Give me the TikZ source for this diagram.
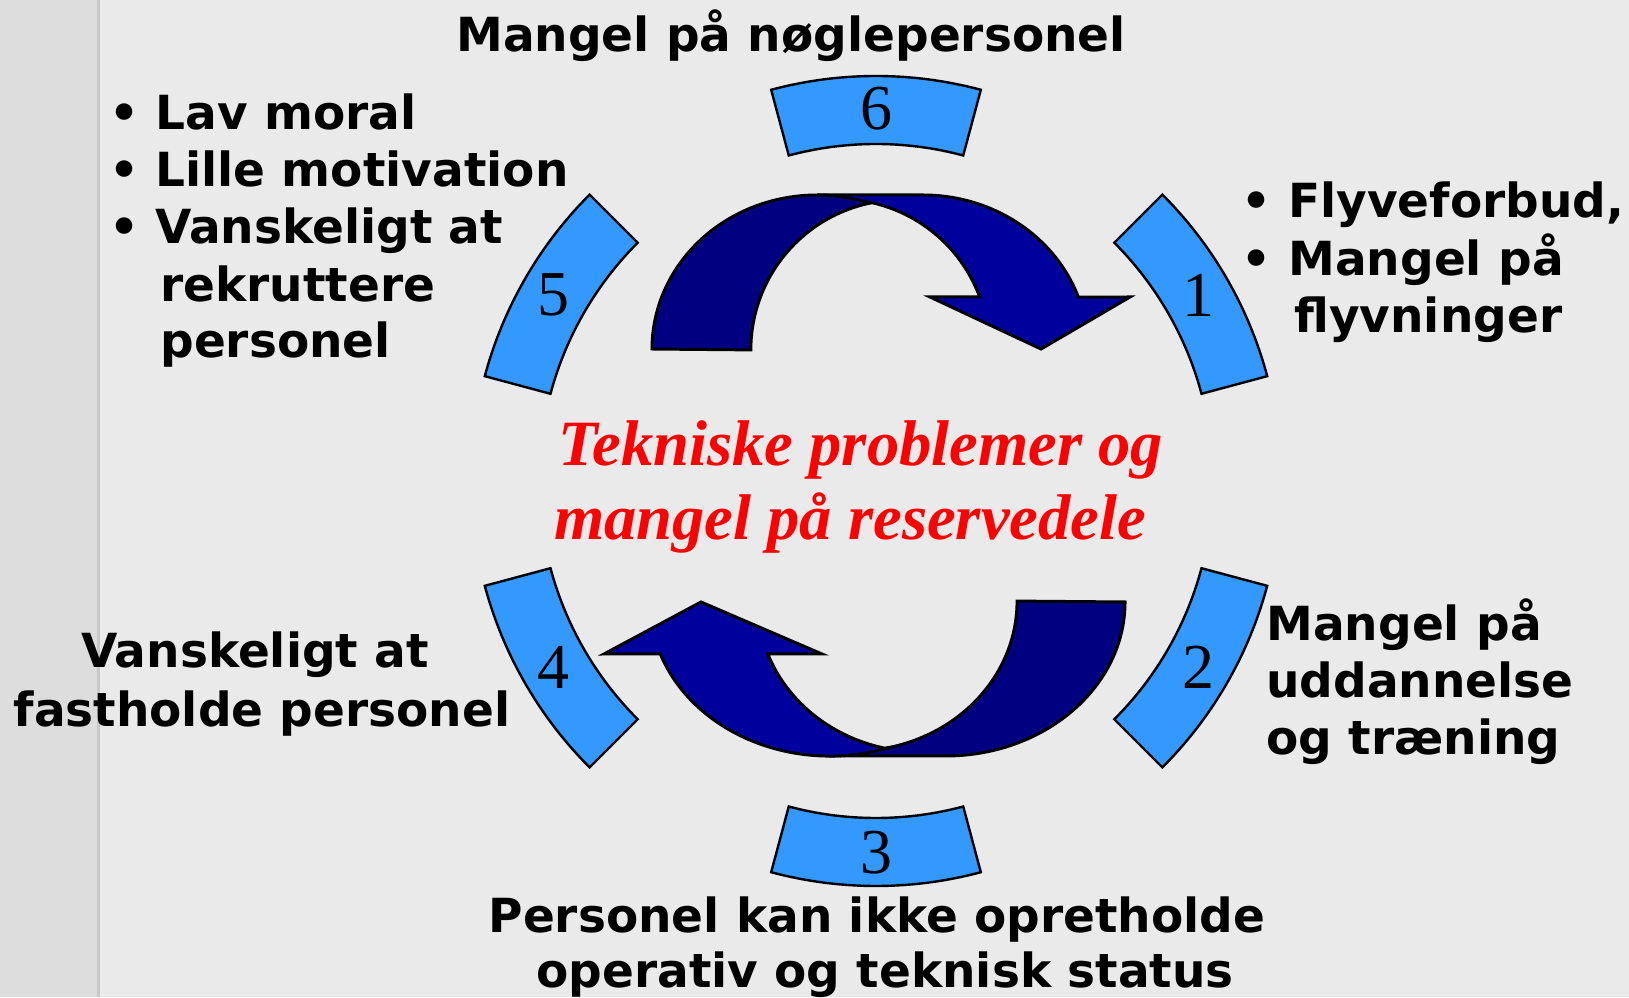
\documentclass[tikz,border=0pt]{standalone}
\usepackage{fontspec}
\setmainfont{DejaVu Sans}
\newfontfamily\timesfont{Liberation Serif}
\usepackage{tikz}
\usetikzlibrary{positioning}
\definecolor{slide_bg}{HTML}{EAEAEA}
\definecolor{slide_strip}{HTML}{DDDDDD}
\definecolor{slide_rule}{HTML}{C8C8C8}
\definecolor{ring_blue}{HTML}{3399FF}
\definecolor{band_dark}{HTML}{000080}
\definecolor{band_light}{HTML}{00009C}
\tikzstyle{segment} = [draw=black, fill=ring_blue, line width=1.2pt]
\tikzstyle{band_back} = [draw=black, fill=band_dark, line width=1.5pt]
\tikzstyle{band_front} = [draw=black, fill=band_light, line width=1.5pt]
\tikzstyle{segnum} = [inner sep=0pt, font=\timesfont\fontsize{32}{32}\selectfont]
\tikzstyle{txt} = [inner sep=0pt, anchor=base, font=\fontsize{23.5}{28}\selectfont\bfseries]
\tikzstyle{txt_left} = [txt, anchor=base west]
\tikzstyle{txt_red} = [inner sep=0pt, anchor=base, text=red, font=\timesfont\fontsize{32.3}{37}\selectfont\bfseries\itshape]

\begin{document}
\begin{tikzpicture}[x=0.5pt, y=0.5pt]
        \useasboundingbox (0,0) rectangle (1629,997);
        \fill[slide_bg] (0,0) rectangle (1629,997);
        \fill[slide_strip] (0,0) rectangle (97,997);
        \draw[slide_rule, line width=1.5pt] (98.5,0) -- (98.5,997);

        % ring of six segments
        \coordinate (ring) at (876,516);
        \foreach \ang/\num in {90/6, 30/1, -30/2, -90/3, -150/4, 150/5}{
            \draw[segment] ([shift={(ring)}]\ang-15:337) -- ([shift={(ring)}]\ang-15:405)
                arc[start angle=\ang-15, end angle=\ang+15, radius=405]
                -- ([shift={(ring)}]\ang+15:337)
                arc[start angle=\ang+15, end angle=\ang-15, radius=337] -- cycle;
            \node[segnum] (seg\num) at ([shift={(ring)}]\ang:372) {\num};
        }

        % upper curved arrow
        \draw[band_front] (817,802) -- (923,802) arc[start angle=90, end angle=19.7, x radius=165, y radius=154]
            -- (1130,700) -- (1041,648) -- (930,700) -- (979.7,700)
            arc[start angle=20.3, end angle=90, radius=150] -- cycle;
        \draw[band_back] (652,648) arc[start angle=180, end angle=71.3, x radius=165, y radius=154]
            arc[start angle=101.9, end angle=180, radius=150] -- cycle;

        % lower curved arrow
        \begin{scope}[shift={(887.4,1043)}, xscale=-1.09, yscale=-1, shift={(-870,0)}]
            \draw[band_back] (652,648) arc[start angle=180, end angle=90, x radius=165, y radius=154]
                -- (923,802) arc[start angle=90, end angle=108.7, x radius=165, y radius=154]
                arc[start angle=101.9, end angle=180, radius=150] -- cycle;
            \draw[band_front] (870.1,793.9) arc[start angle=108.7, end angle=19.7, x radius=165, y radius=154]
                -- (1130,700) -- (1041,648) -- (930,700) -- (979.7,700)
                arc[start angle=20.3, end angle=78.1, radius=150] -- cycle;
        \end{scope}

        % centre
        \node[txt_red] (centre_a) at (861,531) {Tekniske problemer og};
        \node[txt_red] (centre_b) at (850,457) {mangel på reservedele};

        % labels
        \node[txt] (lab6) at (791,945) {Mangel på nøglepersonel};

        \node[txt] (bul5a) at (125,867) {•};
        \node[txt] (bul5b) at (125,810) {•};
        \node[txt] (bul5c) at (125,753) {•};
        \node[txt_left] (lab5a) at (155,867) {Lav moral};
        \node[txt_left] (lab5b) at (155,810) {Lille motivation};
        \node[txt_left] (lab5c) at (155,753) {Vanskeligt at};
        \node[txt_left] (lab5d) at (160,695) {rekruttere};
        \node[txt_left] (lab5e) at (160,639) {personel};

        \node[txt] (bul1a) at (1257,779) {•};
        \node[txt] (bul1b) at (1257,721) {•};
        \node[txt_left] (lab1a) at (1288,779) {Flyveforbud,};
        \node[txt_left] (lab1b) at (1288,721) {Mangel på};
        \node[txt_left] (lab1c) at (1294,664) {flyvninger};

        \node[txt_left] (lab2a) at (1266,356) {Mangel på};
        \node[txt_left] (lab2b) at (1266,299) {uddannelse};
        \node[txt_left] (lab2c) at (1266,242) {og træning};

        \node[txt] (lab4a) at (255,329) {Vanskeligt at};
        \node[txt] (lab4b) at (262,270) {fastholde personel};

        \node[txt] (lab3a) at (877,65) {Personel kan ikke opretholde};
        \node[txt] (lab3b) at (885,10) {operativ og teknisk status};
    \end{tikzpicture}
\end{document}
